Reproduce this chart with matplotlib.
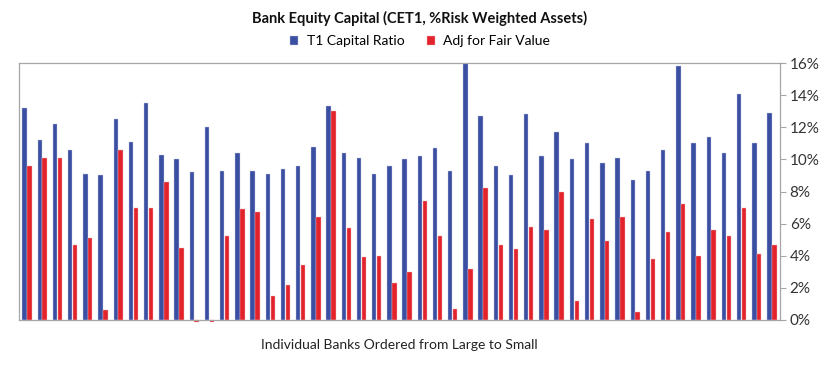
"""Bank equity capital: T1 ratio vs. fair-value adjusted, banks ordered large to small."""

import matplotlib

matplotlib.use("Agg")
import matplotlib.pyplot as plt
import numpy as np
from matplotlib.ticker import PercentFormatter

T1_CAPITAL = [
    13.2, 11.2, 12.2, 10.6, 9.1, 9.0, 12.5, 11.1, 13.5, 10.3,
    10.0, 9.2, 12.0, 9.3, 10.4, 9.3, 9.1, 9.4, 9.6, 10.8,
    13.3, 10.4, 10.1, 9.1, 9.6, 10.0, 10.2, 10.7, 9.3, 16.0,
    12.7, 9.6, 9.0, 12.8, 10.2, 11.7, 10.0, 11.0, 9.8, 10.1,
    8.7, 9.3, 10.6, 15.8, 11.0, 11.4, 10.4, 14.1, 11.0, 12.9,
]
ADJ_FAIR_VALUE = [
    9.6, 10.1, 10.1, 4.7, 5.1, 0.6, 10.6, 7.0, 7.0, 8.6,
    4.5, -0.1, -0.1, 5.2, 6.9, 6.7, 1.5, 2.2, 3.4, 6.4,
    13.0, 5.7, 3.9, 4.0, 2.3, 3.0, 7.4, 5.2, 0.7, 3.2,
    8.2, 4.7, 4.4, 5.8, 5.6, 8.0, 1.2, 6.3, 4.9, 6.4,
    0.5, 3.8, 5.5, 7.2, 4.0, 5.6, 5.2, 7.0, 4.1, 4.7,
]
Y_TICKS = [0, 2, 4, 6, 8, 10, 12, 14, 16]

BLUE = "#3a4ea2"
RED = "#e3232b"
GREY = "#a6a6a6"

plt.rcParams["font.family"] = ["Lato", "DejaVu Sans"]

fig = plt.figure(figsize=(8.4, 3.66), dpi=100)
ax = fig.add_axes([0.0226, 0.1257, 0.906, 0.702])

x = np.arange(len(T1_CAPITAL))
width = 0.29
ax.bar(x - 0.16, T1_CAPITAL, width, color=BLUE, edgecolor="#c5cbe6",
       linewidth=0.3, label="T1 Capital Ratio", zorder=3)
red_bars = ax.bar(x + 0.16, ADJ_FAIR_VALUE, width, color=RED,
                  edgecolor="#f3b5b8", linewidth=0.3,
                  label="Adj for Fair Value", zorder=3)
# small negative values poke just below the baseline, as in the original
for bar in red_bars:
    bar.set_clip_on(False)

ax.set_xlim(-0.53, len(x) - 0.47)
ax.set_ylim(0, 16)
ax.set_yticks(Y_TICKS)
ax.yaxis.set_major_formatter(PercentFormatter(decimals=0))
ax.yaxis.tick_right()
ax.tick_params(axis="y", which="major", labelsize=11, color=GREY, length=4,
               width=0.8, pad=3, labelcolor="#333333")
ax.tick_params(axis="x", bottom=False, labelbottom=False)

for side in ["left", "right", "top", "bottom"]:
    ax.spines[side].set_color(GREY)
    ax.spines[side].set_linewidth(0.9)
    ax.spines[side].set_zorder(4)

ax.set_xlabel("Individual Banks Ordered from Large to Small", fontsize=10,
              color="#222222", labelpad=14)
fig.text(0.5, 0.95, "Bank Equity Capital (CET1, %Risk Weighted Assets)",
         ha="center", va="center", fontsize=10.5, fontweight="bold",
         color="#111111")
fig.legend(loc="center", bbox_to_anchor=(0.5, 0.888), ncol=2, frameon=False,
           fontsize=10, handlelength=0.6, handleheight=0.6,
           handletextpad=0.6, columnspacing=1.6)

fig.savefig("out.png", dpi=100)
